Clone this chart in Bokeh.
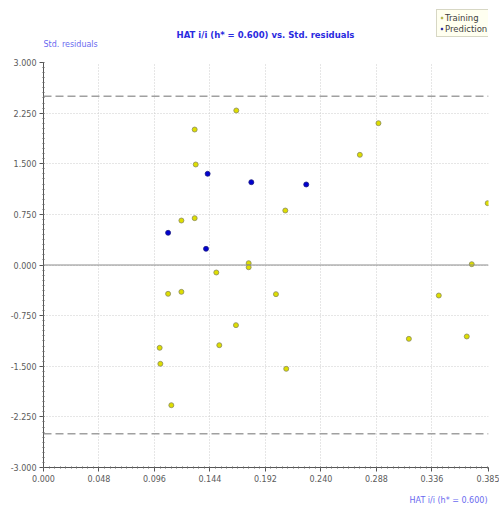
import numpy as np
from bokeh.plotting import figure
from bokeh.layouts import column
from bokeh.models import (FixedTicker, PrintfTickFormatter, Span, Label, Legend, LegendItem,
                          Range1d)
from bokeh.embed import file_html
from bokeh.resources import INLINE

# ---- data ----
train_hat = [0.1668, 0.1308, 0.1317, 0.2092, 0.1193, 0.1308, 0.1775, 0.1775, 0.1495,
             0.1078, 0.1193, 0.2011, 0.1665, 0.1521, 0.1005, 0.1011, 0.2100, 0.1106,
             0.2898, 0.2737, 0.3843, 0.3705, 0.3420, 0.3161, 0.3662]
train_res = [2.289, 2.007, 1.489, 0.807, 0.659, 0.694, 0.027, -0.033, -0.111,
             -0.427, -0.398, -0.432, -0.891, -1.188, -1.227, -1.464, -1.538, -2.077,
             2.101, 1.632, 0.916, 0.012, -0.452, -1.094, -1.059]
pred_hat = [0.1420, 0.1798, 0.2273, 0.1078, 0.1406]
pred_res = [1.351, 1.227, 1.193, 0.477, 0.240]

x_ticks = [0.000, 0.048, 0.096, 0.144, 0.192, 0.240, 0.288, 0.336, 0.385]
y_ticks = [-3.0, -2.25, -1.5, -0.75, 0.0, 0.75, 1.5, 2.25, 3.0]
limit_res = 2.5
x_min, x_max = 0.0, 0.385
y_min, y_max = -3.0, 3.0

title_text = "HAT i/i (h* = 0.600) vs. Std. residuals"
y_label_text = "Std. residuals"
x_label_text = "HAT i/i (h* = 0.600)"
series_names = ["Training", "Prediction"]

FONT = "DejaVu Sans"
TRAIN_FILL, TRAIN_LINE = "#dede00", "#8a8a60"
PRED_FILL, PRED_LINE = "#0000d0", "#202080"

W = 499
HEAD_H = 54
MAIN_H = 433
FOOT_H = 21
FRAME_L, FRAME_R = 43, 488


def blank_panel(height):
    f = figure(width=W, height=height, output_backend="svg", toolbar_location=None,
               x_range=Range1d(FRAME_L, FRAME_R), y_range=Range1d(0, height),
               x_axis_location=None, y_axis_location=None,
               min_border_left=FRAME_L, min_border_right=W - FRAME_R,
               min_border_top=0, min_border_bottom=0)
    f.outline_line_color = None
    f.xgrid.visible = False
    f.ygrid.visible = False
    return f


# ---- header: title, y-axis caption, legend (frame aligned with main plot) ----
head = blank_panel(HEAD_H)
head.add_layout(Label(x=265, y=20, text=title_text, text_align="center",
                      text_baseline="middle", text_font=FONT, text_font_size="8.5px",
                      text_font_style="bold", text_color="#2a2ae0"))
head.add_layout(Label(x=43, y=10, text=y_label_text, text_align="left",
                      text_baseline="middle", text_font=FONT, text_font_size="8px",
                      text_color="#6a6af0"))
# legend keys: same series, they fall outside this header's ranges so only the key shows
d1 = head.scatter(train_hat, train_res, size=4, fill_color=TRAIN_FILL, line_color=TRAIN_LINE,
                  line_width=0.6)
d2 = head.scatter(pred_hat, pred_res, size=4, fill_color=PRED_FILL, line_color=PRED_LINE,
                  line_width=0.6)
legend = Legend(items=[LegendItem(label=series_names[0], renderers=[d1]),
                       LegendItem(label=series_names[1], renderers=[d2])],
                location=(393, 17), orientation="vertical",
                label_text_font=FONT, label_text_font_size="8.5px", label_text_color="#404040",
                label_height=11, label_standoff=1, glyph_width=5, glyph_height=11,
                padding=2, spacing=0, margin=0,
                background_fill_color="#fffff0", background_fill_alpha=1.0,
                border_line_color="#b0b098", border_line_width=1)
head.add_layout(legend, "center")

# ---- main plot ----
p = figure(width=W, height=MAIN_H, output_backend="svg", toolbar_location=None,
           x_range=Range1d(x_min, x_max), y_range=Range1d(y_min, y_max),
           min_border_left=FRAME_L, min_border_right=W - FRAME_R,
           min_border_top=8, min_border_bottom=20)
p.outline_line_color = None

x_minor = list(np.round(np.arange(0, 0.3841, 0.0048), 5))
y_minor = list(np.round(np.arange(-3.0, 3.0001, 0.075), 4))
p.xaxis.ticker = FixedTicker(ticks=x_ticks, minor_ticks=x_minor)
p.yaxis.ticker = FixedTicker(ticks=y_ticks, minor_ticks=y_minor)
p.xaxis.formatter = PrintfTickFormatter(format="%.3f")
p.yaxis.formatter = PrintfTickFormatter(format="%.3f")

for ax in (p.xaxis, p.yaxis):
    ax.axis_line_color = "#555555"
    ax.major_tick_line_color = "#555555"
    ax.minor_tick_line_color = "#666666"
    ax.major_tick_out = 4
    ax.major_tick_in = 0
    ax.minor_tick_out = 1
    ax.minor_tick_in = 1
    ax.major_label_text_font = FONT
    ax.major_label_text_font_size = "8px"
    ax.major_label_text_color = "#5a5a5a"
    ax.major_label_standoff = 3

for g in (p.xgrid, p.ygrid):
    g.grid_line_color = "#cccccc"
    g.grid_line_dash = "1 2"
    g.grid_line_width = 1

p.add_layout(Span(location=0, dimension="width", line_color="#8c8c8c", line_width=1))
for loc in (limit_res, -limit_res):
    p.add_layout(Span(location=loc, dimension="width", line_color="#a0a0a0",
                      line_width=1.5, line_dash="8 4"))

p.scatter(train_hat, train_res, size=5, fill_color=TRAIN_FILL, line_color=TRAIN_LINE,
          line_width=0.8)
p.scatter(pred_hat, pred_res, size=5, fill_color=PRED_FILL, line_color=PRED_LINE,
          line_width=0.8)

# ---- footer: x-axis caption ----
foot = blank_panel(FOOT_H)
foot.add_layout(Label(x=487, y=8, text=x_label_text, text_align="right",
                      text_baseline="middle", text_font=FONT, text_font_size="8px",
                      text_color="#6a6af0"))

layout = column(head, p, foot, spacing=0)
open("out.html", "w").write(file_html(layout, INLINE))
